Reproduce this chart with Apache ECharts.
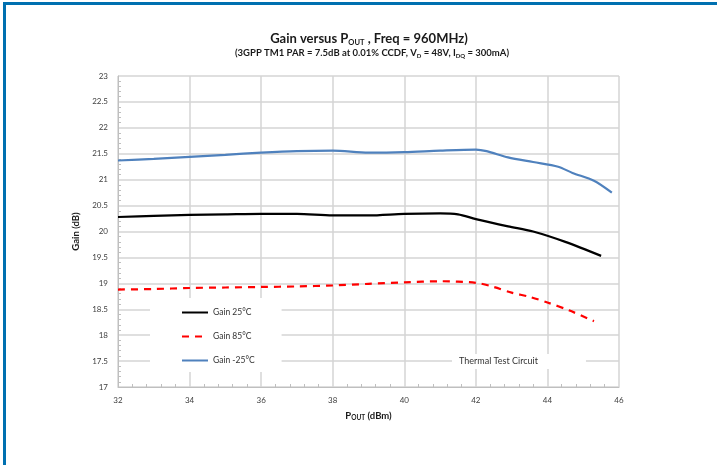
<!DOCTYPE html>
<html>
<head>
<meta charset="utf-8">
<script src="https://cdn.jsdelivr.net/npm/echarts@6/dist/echarts.min.js"></script>
<style>
html,body{margin:0;padding:0;background:#fff;}
#c{width:717px;height:465px;}
</style>
</head>
<body>
<div id="c"></div>
<script>
// Data
const seriesNames = ['Gain 25°C', 'Gain 85°C', 'Gain -25°C'];

const pout25 = [32, 33, 34, 35, 36, 37, 38, 39, 40, 41, 41.5, 42, 42.9, 43.6, 44.5, 45.5];
const gain25 = [20.28, 20.30, 20.32, 20.33, 20.34, 20.34, 20.31, 20.31, 20.34, 20.35, 20.33, 20.24, 20.10, 20.00, 19.80, 19.53];

const pout85 = [32, 33, 34, 35, 36, 37, 38, 39, 40, 41, 42, 42.5, 43, 43.5, 44, 44.6, 45.3];
const gain85 = [18.88, 18.89, 18.91, 18.92, 18.93, 18.94, 18.96, 18.99, 19.02, 19.04, 19.01, 18.93, 18.82, 18.74, 18.63, 18.48, 18.27];

const poutM25 = [32, 33, 34, 35, 36, 37, 38, 39, 40, 41, 42, 42.3, 42.9, 43.6, 44.3, 44.7, 45.3, 45.8];
const gainM25 = [21.37, 21.40, 21.44, 21.48, 21.52, 21.55, 21.56, 21.52, 21.53, 21.56, 21.58, 21.55, 21.43, 21.34, 21.25, 21.13, 20.98, 20.75];

const xTicks = [32, 34, 36, 38, 40, 42, 44, 46];
const yTicks = [17, 17.5, 18, 18.5, 19, 19.5, 20, 20.5, 21, 21.5, 22, 22.5, 23];

function pairs(xs, ys) { return xs.map((x, i) => [x, ys[i]]); }

const FONT = 'Lato, "Open Sans", sans-serif';
const chart = echarts.init(document.getElementById('c'));

chart.setOption({
  backgroundColor: '#fff',
  animation: false,
  textStyle: { fontFamily: FONT },
  title: [{
    text: 'Gain versus P{sub|OUT} , Freq = 960MHz)',
    left: 364, top: 25, textAlign: 'center',
    textStyle: {
      fontSize: 13, fontWeight: 'bold', color: '#1a1a1a', fontFamily: FONT, lineHeight: 17,
      rich: { sub: { fontSize: 7.5, fontWeight: 'bold', color: '#1a1a1a', fontFamily: FONT, verticalAlign: 'bottom', lineHeight: 4 } }
    }
  }, {
    text: '(3GPP TM1 PAR = 7.5dB at 0.01% CCDF, V{sub|D} = 48V, I{sub|DQ} = 300mA)',
    left: 367, top: 42, textAlign: 'center',
    textStyle: {
      fontSize: 9.5, fontWeight: 'bold', color: '#1a1a1a', fontFamily: FONT, lineHeight: 12,
      rich: { sub: { fontSize: 6, fontWeight: 'bold', color: '#1a1a1a', fontFamily: FONT, verticalAlign: 'bottom', lineHeight: 3 } }
    }
  }],
  grid: { left: 118, right: 98, top: 76, bottom: 78 },
  legend: {
    orient: 'vertical',
    left: 150, top: 298,
    data: seriesNames,
    itemWidth: 26, itemHeight: 10, itemGap: 15, itemTextGap: 3,
    padding: [10, 27, 7, 31],
    backgroundColor: '#fff',
    itemStyle: { opacity: 0 },
    textStyle: { fontSize: 8.5, color: '#333', fontFamily: FONT }
  },
  xAxis: {
    type: 'value', min: xTicks[0], max: xTicks[xTicks.length - 1], interval: 2,
    name: 'P{sub|OUT} (dBm)', nameLocation: 'middle', nameGap: 24,
    nameTextStyle: {
      fontSize: 9.5, fontWeight: 'bold', color: '#1a1a1a', fontFamily: FONT,
      rich: { sub: { fontSize: 6.5, fontWeight: 'bold', color: '#1a1a1a', fontFamily: FONT, verticalAlign: 'bottom', lineHeight: 3 } }
    },
    axisLine: { lineStyle: { color: '#bfbfbf', width: 1 } },
    axisTick: { show: false, inside: true },
    minorTick: { show: true, splitNumber: 5, length: 3, lineStyle: { color: '#bfbfbf' } },
    splitLine: { show: true, lineStyle: { color: '#d4d4d4', width: 1.5 } },
    axisLabel: { fontSize: 8, color: '#404040', margin: 9, fontFamily: FONT }
  },
  yAxis: {
    type: 'value', min: yTicks[0], max: yTicks[yTicks.length - 1], interval: 0.5,
    name: 'Gain (dB)', nameLocation: 'middle', nameGap: 37,
    nameTextStyle: { fontSize: 9.5, fontWeight: 'bold', color: '#1a1a1a', fontFamily: FONT },
    axisLine: { show: true, lineStyle: { color: '#bfbfbf', width: 1 } },
    axisTick: { show: false, inside: true },
    minorTick: { show: true, splitNumber: 5, length: 3, lineStyle: { color: '#bfbfbf' } },
    splitLine: { show: true, lineStyle: { color: '#d4d4d4', width: 1.5 } },
    axisLabel: { fontSize: 8, color: '#404040', margin: 10, fontFamily: FONT }
  },
  series: [{
    name: seriesNames[0], type: 'line', symbol: 'none', smooth: 0.3, z: 3,
    data: pairs(pout25, gain25),
    lineStyle: { color: '#000', width: 2.2 }, itemStyle: { color: '#000' }
  }, {
    name: seriesNames[1], type: 'line', symbol: 'none', smooth: 0.3, z: 3,
    data: pairs(pout85, gain85),
    lineStyle: { color: '#ff0000', width: 2.2, type: [7, 6] }, itemStyle: { color: '#ff0000' }
  }, {
    name: seriesNames[2], type: 'line', symbol: 'none', smooth: 0.3, z: 3,
    data: pairs(poutM25, gainM25),
    lineStyle: { color: '#4f81bd', width: 2.2 }, itemStyle: { color: '#4f81bd' }
  }],
  graphic: [
    { type: 'rect', left: 3, top: 2, shape: { width: 714, height: 3 }, style: { fill: '#0070b0' }, z: 100 },
    { type: 'rect', left: 3, top: 2, shape: { width: 3, height: 463 }, style: { fill: '#0070b0' }, z: 100 },
    { type: 'text', left: 452, top: 354,
      style: { text: 'Thermal Test Circuit', fontSize: 9, fill: '#333', fontFamily: FONT,
               backgroundColor: '#fff', padding: [3, 48, 3, 7] }, z: 50 }
  ]
});
</script>
</body>
</html>
